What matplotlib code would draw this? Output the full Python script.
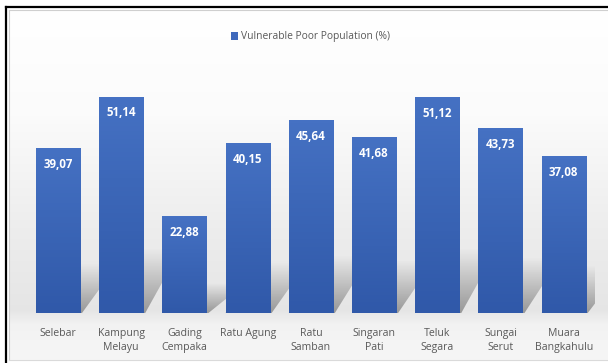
import numpy as np
import matplotlib
matplotlib.use("Agg")
import matplotlib.pyplot as plt
from matplotlib.patches import Polygon
from matplotlib.lines import Line2D

# data
districts = ["Selebar", "Kampung\nMelayu", "Gading\nCempaka", "Ratu Agung", "Ratu\nSamban",
             "Singaran\nPati", "Teluk\nSegara", "Sungai\nSerut", "Muara\nBangkahulu"]
poor_pct = [39.07, 51.14, 22.88, 40.15, 45.64, 41.68, 51.12, 43.73, 37.08]
value_labels = ["39,07", "51,14", "22,88", "40,15", "45,64", "41,68", "51,12", "43,73", "37,08"]
series_name = "Vulnerable Poor Population (%)"

W, H = 608, 363
plt.rcParams['font.family'] = ['Open Sans', 'DejaVu Sans']
fig = plt.figure(figsize=(W / 100, H / 100), dpi=100)
fig.patch.set_facecolor("white")

# background gradient (white top -> light grey near bar base -> lighter under labels)
bg = fig.add_axes([9 / W, 3 / H, 1.05, 1 - 12 / H])
bg.set_axis_off()
ys = np.linspace(0, 1, 300)  # 0 = top
g = np.interp(ys, [0, 0.3, 0.62, 0.86, 0.9, 1.0], [1.0, 0.985, 0.93, 0.9, 0.95, 0.965])
grad = np.repeat(g[:, None], 2, axis=1)
bg.imshow(np.dstack([grad, grad, grad]), aspect="auto", extent=[0, 1, 0, 1], origin="upper",
          interpolation="bilinear")
bg.set_xlim(0, 1)
bg.set_ylim(0, 1)

# frame: black on top and left, thin grey inner edge (right side cropped in the reference)
def px_line(x0, y0, x1, y1, color, lw):
    fig.lines.append(Line2D([x0 / W, x1 / W], [1 - y0 / H, 1 - y1 / H], transform=fig.transFigure,
                            color=color, lw=lw))

px_line(6, 7, 640, 7, "black", 1.6)
px_line(6, 7, 6, 370, "black", 1.6)
px_line(9, 10, 640, 10, "#cfcfcf", 0.8)
px_line(9, 10, 9, 360, "#cfcfcf", 0.8)
px_line(9, 360, 640, 360, "#dadada", 0.8)

ax = fig.add_axes([26.4 / W, 50 / H, 568.9 / W, 253.9 / H])
ax.set_facecolor("none")
x = np.arange(len(districts))

# soft perspective shadows behind bars
sh_rgba = np.zeros((60, 2, 4))
sh_rgba[..., :3] = 0.35
sh_rgba[..., 3] = np.linspace(0.55, 0.0, 60)[:, None]
for xi, v in zip(x, poor_pct):
    top = v * 0.3
    poly = Polygon([(xi - 0.35, 0), (xi + 0.38, 0), (xi + 0.95, top), (xi + 0.3, top)],
                   closed=True, facecolor="none", edgecolor="none")
    ax.add_patch(poly)
    im = ax.imshow(sh_rgba, aspect="auto", extent=[xi - 0.4, xi + 1.0, 0, top],
                   origin="lower", zorder=1, interpolation="bilinear")
    im.set_clip_path(poly)

bars = ax.bar(x, poor_pct, width=0.7, color="#3F69BC", zorder=2, label=series_name)

# vertical gradient on each bar
cm = matplotlib.colors.LinearSegmentedColormap.from_list("b", ["#3059A9", "#4571C3"])
for b in bars:
    bx, bw, bh = b.get_x(), b.get_width(), b.get_height()
    im = ax.imshow(np.linspace(0, 1, 50)[:, None], cmap=cm, aspect="auto",
                   extent=[bx, bx + bw, 0, bh], origin="lower", zorder=3)
    im.set_clip_path(b)

ax.set_xlim(-0.5, len(districts) - 0.5)
ax.set_ylim(0, 60)

for xi, v, lab in zip(x, poor_pct, value_labels):
    ax.annotate(lab, (xi, v), xytext=(0, -11.8), textcoords="offset points",
                ha="center", va="center", color="white", fontsize=8.3, fontweight="bold", zorder=4)

ax.set_xticks(x)
ax.set_xticklabels(districts, color="#595959", fontsize=7.6, linespacing=1.45)
ax.tick_params(axis="x", length=0, pad=10.5)
ax.set_yticks([])
for s in ax.spines.values():
    s.set_visible(False)

leg = ax.legend(loc="center", bbox_to_anchor=(0.5, (363 - 37 - 50) / 253.9), frameon=False,
                fontsize=7.4, handlelength=0.7, handleheight=0.7, handletextpad=0.3,
                labelcolor="#595959")

fig.savefig("out.png", dpi=100)
